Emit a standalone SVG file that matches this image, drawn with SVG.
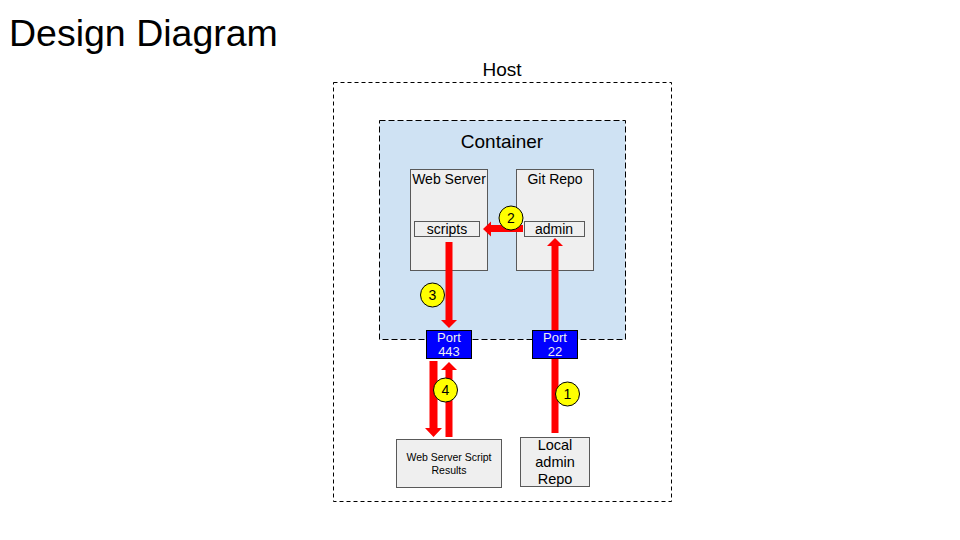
<svg xmlns="http://www.w3.org/2000/svg" width="960" height="540" viewBox="0 0 960 540">
<style>
text{font-family:"Liberation Sans",Arial,sans-serif;fill:#000}
.dash{fill:none;stroke:#000;stroke-width:1;stroke-dasharray:4 3}
.box{fill:#efefef;stroke:#595959;stroke-width:1}
.port{fill:#0000ff;stroke:#000;stroke-width:1}
.pt{fill:#efefef;font-size:13px;text-anchor:middle}
.arr{fill:#ff0000;stroke:none}
.num{fill:#ffff00;stroke:#000;stroke-width:1}
.nt{font-size:14px;text-anchor:middle}
</style>
<rect width="960" height="540" fill="#fff"/>
<text x="9" y="46" font-size="37.5">Design Diagram</text>
<g id="host">
<rect class="dash" x="333.5" y="82.5" width="338" height="419"/>
<text x="502" y="76" font-size="19" text-anchor="middle">Host</text>
</g>
<g id="container">
<rect x="379.5" y="120.5" width="246" height="219" fill="#cfe2f3" stroke="#000" stroke-dasharray="6 3"/>
<text x="502" y="148" font-size="19" text-anchor="middle">Container</text>
</g>
<g id="webserver">
<rect class="box" x="410.5" y="169.5" width="77" height="101"/>
<text x="449" y="184" font-size="14" text-anchor="middle">Web Server</text>
<rect class="box" x="414.5" y="221.5" width="65" height="15"/>
<text x="447" y="234" font-size="14" text-anchor="middle">scripts</text>
</g>
<g id="gitrepo">
<rect class="box" x="516.5" y="169.5" width="77" height="101"/>
<text x="555" y="184" font-size="14" text-anchor="middle">Git Repo</text>
<rect class="box" x="524.5" y="221.5" width="60" height="15"/>
<text x="554" y="234" font-size="14" text-anchor="middle">admin</text>
</g>
<g id="results">
<rect class="box" x="396.5" y="439.5" width="105" height="48"/>
<text x="449" y="461" font-size="10.5" text-anchor="middle">Web Server Script</text>
<text x="449" y="474" font-size="10.5" text-anchor="middle">Results</text>
</g>
<g id="localrepo">
<rect class="box" x="520.5" y="437.5" width="69" height="49"/>
<text x="555" y="450" font-size="14.5" text-anchor="middle">Local</text>
<text x="555" y="467" font-size="14.5" text-anchor="middle">admin</text>
<text x="555" y="484" font-size="14.5" text-anchor="middle">Repo</text>
</g>
<g id="connectors">
<polygon class="arr" points="523,225 491,225 491,221.5 483,229 491,236.5 491,232 523,232"/>
<polygon class="arr" points="445.5,242 452.5,242 452.5,320 457,320 449,328 441,320 445.5,320"/>
<polygon class="arr" points="551.5,433 558.5,433 558.5,246 563,246 555,238 547,246 551.5,246"/>
<polygon class="arr" points="429.5,361 437.5,361 437.5,428 442,428 433.5,437 425,428 429.5,428"/>
<polygon class="arr" points="445.5,437 452.5,437 452.5,370 457,370 449,362 441,370 445.5,370"/>
</g>
<g id="port443">
<rect class="port" x="426.5" y="330.5" width="45" height="28"/>
<text class="pt" x="449" y="342">Port</text>
<text class="pt" x="449" y="356">443</text>
</g>
<g id="port22">
<rect class="port" x="532.5" y="330.5" width="45" height="28"/>
<text class="pt" x="555" y="342">Port</text>
<text class="pt" x="555" y="356">22</text>
</g>
<g id="step1"><circle class="num" cx="567.5" cy="394" r="12"/><text class="nt" x="567.5" y="399">1</text></g>
<g id="step2"><circle class="num" cx="511" cy="218" r="12"/><text class="nt" x="511" y="223">2</text></g>
<g id="step3"><circle class="num" cx="432.5" cy="295" r="12"/><text class="nt" x="432.5" y="300">3</text></g>
<g id="step4"><circle class="num" cx="445.5" cy="390" r="12"/><text class="nt" x="445.5" y="395">4</text></g>
</svg>
